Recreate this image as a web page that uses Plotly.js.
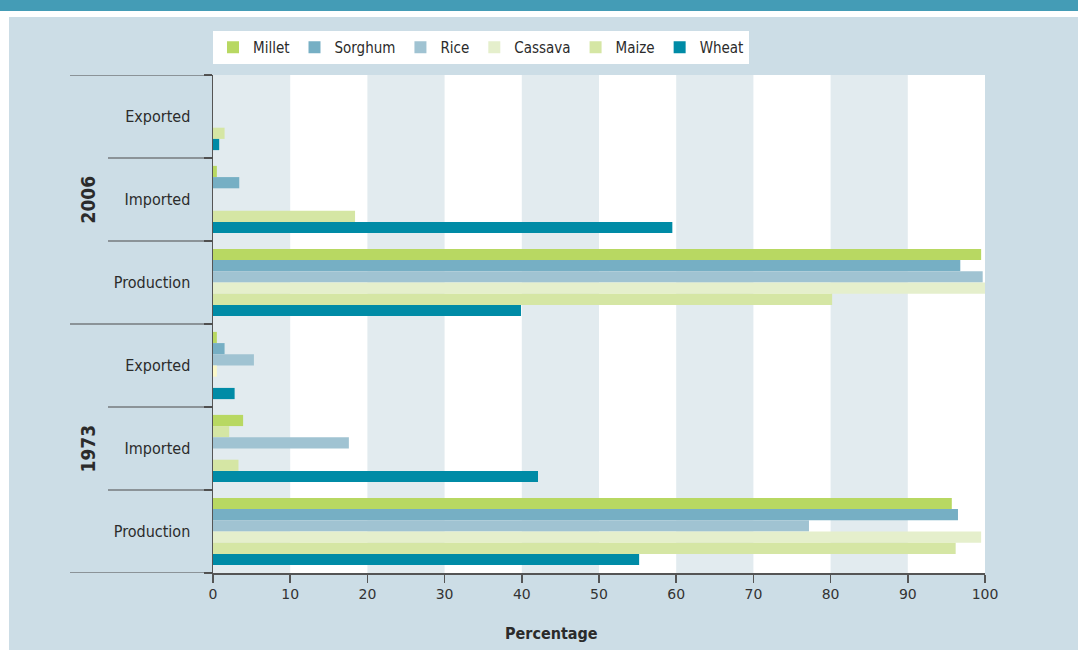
<!DOCTYPE html>
<html>
<head>
<meta charset="utf-8">
<script src="https://cdn.plot.ly/plotly-3.0.1.min.js"></script>
<style>
  html, body { margin: 0; padding: 0; background: #ffffff; }
  #chart { width: 1078px; height: 650px; }
</style>
</head>
<body>
<div id="chart"></div>
<script>
// ---- data ----
var years = ["2006", "1973"];
var stages = ["Exported", "Imported", "Production"];
var crops = ["Millet", "Sorghum", "Rice", "Cassava", "Maize", "Wheat"];
// values per crop, in order: 2006 Exported, Imported, Production, 1973 Exported, Imported, Production
var millet  = [0,   0.5, 99.5, 0.5, 3.9, 95.7];
var sorghum = [0,   3.4, 96.8, 1.5, 2.1, 96.5];
var rice    = [0,   0,   99.7, 5.3, 17.6, 77.2];
var cassava = [0,   0,  100.0, 0.5, 0,   99.5];
var maize   = [1.5, 18.4, 80.2, 0,  3.3, 96.2];
var wheat   = [0.8, 59.5, 39.9, 2.8, 42.1, 55.2];
var xTicks = [0, 10, 20, 30, 40, 50, 60, 70, 80, 90, 100];

// ---- style ----
var colors = {
  Millet: "#b8d862", Sorghum: "#76afc4", Rice: "#a0c3d2",
  Cassava: "#e5efcc", Maize: "#d5e6a4", Wheat: "#008ba6"
};
var series = [millet, sorghum, rice, cassava, maize, wheat];
var NARROW = "DejaVu Sans Condensed, Liberation Sans Narrow, Arial";

var W = 1078, H = 650, L = 213, R = 985, T = 75, B = 573;
function px(x) { return (x - L) / (R - L); }
function py(y) { return 1 - (y - T) / (B - T); }

var yKeys = [];
years.forEach(function (yr) { stages.forEach(function (s) { yKeys.push(yr + " " + s); }); });
var yText = [];
years.forEach(function () { stages.forEach(function (s) { yText.push(s); }); });

var traces = crops.map(function (c, i) {
  var col = series[i].map(function () { return colors[c]; });
  if (c === "Sorghum") col[4] = colors.Maize;      // as in the original picture
  if (c === "Cassava") col[3] = "#fbf8c8";
  return {
    type: "bar", orientation: "h", name: c,
    x: series[i], y: yKeys,
    marker: { color: col, line: { width: 0 } },
    hoverinfo: "x+name"
  };
});

var shapes = [];
// header and white strips
shapes.push({ type: "rect", xref: "paper", yref: "paper", x0: px(0), x1: px(W), y0: py(17), y1: py(0), fillcolor: "#ffffff", line: { width: 0 }, layer: "below" });
shapes.push({ type: "rect", xref: "paper", yref: "paper", x0: px(0), x1: px(W), y0: py(11), y1: py(0), fillcolor: "#449cb6", line: { width: 0 }, layer: "below" });
shapes.push({ type: "rect", xref: "paper", yref: "paper", x0: px(0), x1: px(9), y0: py(H), y1: py(11), fillcolor: "#ffffff", line: { width: 0 }, layer: "below" });
// alternating bands
for (var b = 0; b < 100; b += 20) {
  shapes.push({ type: "rect", xref: "x", yref: "paper", x0: b, x1: b + 10, y0: 0, y1: 1, fillcolor: "#e2ebef", line: { width: 0 }, layer: "below" });
}
// divider lines on the left
var lineCol = "#4a4a4a";
[-0.5, 2.5, 5.5].forEach(function (v) {
  shapes.push({ type: "line", xref: "paper", yref: "y", x0: px(70), x1: 0, y0: v, y1: v, line: { color: lineCol, width: 1.2 } });
});
[0.5, 1.5, 3.5, 4.5].forEach(function (v) {
  shapes.push({ type: "line", xref: "paper", yref: "y", x0: px(108), x1: 0, y0: v, y1: v, line: { color: lineCol, width: 1.2 } });
});

var annotations = [
  { text: "<b>2006</b>", xref: "paper", yref: "y", x: px(87), y: 1, xanchor: "center", yanchor: "middle",
    textangle: -90, showarrow: false,
    font: { family: NARROW, size: 19, color: "#2b2b2b" } },
  { text: "<b>1973</b>", xref: "paper", yref: "y", x: px(87), y: 4, xanchor: "center", yanchor: "middle",
    textangle: -90, showarrow: false,
    font: { family: NARROW, size: 19, color: "#2b2b2b" } },
  { text: "<b>Percentage</b>", xref: "paper", yref: "paper", x: px(551), y: py(633),
    xanchor: "center", yanchor: "middle", showarrow: false,
    font: { family: NARROW, size: 16, color: "#2b2b2b" } }
];

var layout = {
  width: W, height: H,
  margin: { l: L, r: W - R, t: T, b: H - B, pad: 0 },
  paper_bgcolor: "#ccdde6",
  plot_bgcolor: "#ffffff",
  barmode: "group",
  bargap: 0.19,
  bargroupgap: 0,
  showlegend: true,
  legend: {
    orientation: "h", x: 0, xanchor: "left", y: py(31), yanchor: "top",
    bgcolor: "#ffffff", borderwidth: 0,
    font: { family: NARROW, size: 15, color: "#2b2b2b" },
    itemclick: false, itemdoubleclick: false
  },
  xaxis: {
    range: [0, 100], tickvals: xTicks, ticktext: xTicks.map(String),
    showgrid: false, zeroline: false,
    showline: true, linecolor: "#555555", linewidth: 1.5,
    ticks: "outside", ticklen: 8, tickwidth: 1.5, tickcolor: "#555555",
    tickfont: { family: "DejaVu Sans, Arial", size: 14, color: "#333333" },
    fixedrange: true
  },
  yaxis: {
    type: "category", categoryorder: "array", categoryarray: yKeys,
    tickvals: yKeys, ticktext: yText,
    range: [5.5, -0.5],
    showgrid: false, zeroline: false,
    showline: true, linecolor: "#555555", linewidth: 1.5,
    ticks: "outside", tickson: "boundaries", ticklen: 8, tickwidth: 1.5, tickcolor: "#555555",
    ticklabelstandoff: 18,
    tickfont: { family: NARROW, size: 16, color: "#2b2b2b" },
    fixedrange: true
  },
  shapes: shapes,
  annotations: annotations
};

Plotly.newPlot("chart", traces, layout, { displayModeBar: false, staticPlot: true });
</script>
</body>
</html>
